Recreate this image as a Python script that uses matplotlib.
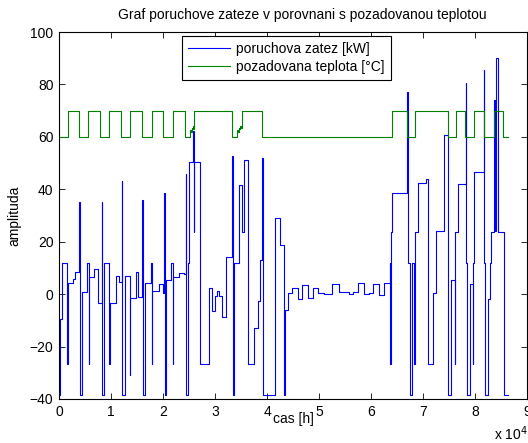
import numpy as np
import matplotlib.pyplot as plt

plt.rcParams['font.family'] = ['Liberation Sans', 'DejaVu Sans']

# time in seconds, values held until the next time stamp
zatez_t = [0, 200, 640, 1560, 1660, 2690, 3080, 3846, 3950, 4100, 4490, 5384, 5700, 5780,
           6795, 7500, 8205, 8300, 8590, 9680, 9780, 10898, 11603, 12051, 12150, 12692,
           13590, 13680, 14743, 15100, 16025, 16120, 16538, 17692, 17820, 17900, 19230,
           20000, 20256, 20350, 20512, 21538, 21859, 21950, 23077, 24038, 24359, 24450,
           24743, 25000, 25833, 25930, 26025, 27115, 28846, 29487, 29936, 30384, 30769,
           31282, 32051, 33333, 33450, 33718, 34615, 35256, 35513, 36410, 37564, 38205,
           38718, 39103, 39200, 41474, 41538, 42436, 43333, 43420, 44102, 44872, 45897,
           46795, 47949, 48846, 49872, 50898, 52564, 53846, 55769, 56538, 57436, 58590,
           59615, 60384, 61538, 62436, 63600, 63718, 63800, 64103, 66923, 67020, 67436,
           67820, 68333, 68420, 68974, 70513, 70897, 71923, 72564, 74102, 74743, 74871,
           75384, 76100, 76200, 76794, 78205, 78300, 78461, 78974, 79615, 79700, 79743,
           81666, 81760, 81922, 82435, 82948, 83076, 83589, 83650, 83720, 83790, 83860,
           83930, 84102, 84487, 85512, 85640, 86400]
zatez_v = [-38.3, -9.5, 12, -26.5, 4.1, 5.7, 8.5, 35, -3.4, -38.3, 1, 12, -26.5, 6.6,
           9.5, -3.3, 35, -38.3, 12, -26.5, -3.5, 7, 4.7, 43.3, -38.3, 7,
           -31, -1.3, 8.3, -1.0, 35.9, -38.3, 4.3, 12, -26.5, 1.3, 3.7,
           0.3, 38.4, -38.3, 5.3, 12, -26.5, 6.4, 7.9, 7.6, 45.8, -38.3,
           12, 50.3, 62.3, 23.8, 50.3, -26.5, 2.2, -6.4, -0.8, 1.3, -0.8,
           -8.9, 14.2, 52.7, -38.3, 12, 41.6, 23.8, 51.1, -26.5, -13.1, -2.5,
           13.2, 51.8, -38.3, 12, 28.9, 18.7, -38.3, -5.9, 0.3, 2.2, -1.7,
           3.4, -1.4, 2.5, 0.6, -0.1, 3.7, 0.8, 0.1, 0.8, 4.1, 0.1,
           0.6, 3.7, -0.5, 4.3, 12, -26.5, 23.8, 38.4, 77.1, 12, -38.3,
           12, -26.5, 23.8, 42.5, 44, -26.5, 0.3, 23.9, 60.6, -26.5, -38.3,
           5.3, -26.5, 23.8, 42, 80.4, 12, -38.3, 4, -26.5, 12, 46.7,
           85.5, 12, -38.3, -1.7, 12, 23.8, 74, 24, 74, 24, 74,
           24, 90, 23.8, 12, -38.3, -38.3]

teplota_t = [0, 1670, 3850, 5640, 7950, 9620, 11920, 13590, 16020, 17820, 20000, 21920,
             24230, 25190, 25350, 25500, 25620, 25750, 25880, 25961, 33330, 34300, 34450,
             34600, 34750, 34900, 35050, 35250, 39040, 64040, 66920, 68460, 74750, 76280,
             78140, 79870, 81790, 83710, 85440, 86400]
teplota_v = [60, 70, 60, 70, 60, 70, 60, 70, 60, 70, 60, 70,
             60, 62.5, 62, 63.5, 63, 64, 63, 70, 60, 62.5, 62,
             63.5, 63, 64, 63.2, 70, 60, 70, 60, 70, 60, 70,
             60, 70, 60, 70, 60, 60]

x_ticks = np.arange(0, 90001, 10000)
x_labels = [str(i) for i in range(10)]
y_ticks = np.arange(-40, 101, 20)

W, H = 528, 443
fs = 10
fig = plt.figure(figsize=(W / 100, H / 100), dpi=100)
ax = fig.add_axes([59 / W, 1 - 399 / H, (527 - 59) / W, (399 - 32) / H])

ax.plot(zatez_t, zatez_v, drawstyle='steps-post', color='#0000ff', lw=0.8,
        label='poruchova zatez [kW]')
ax.plot(teplota_t, teplota_v, drawstyle='steps-post', color='#008000', lw=0.8,
        label='pozadovana teplota [°C]')

ax.set_xlim(0, 90000)
ax.set_ylim(-40, 100)
ax.set_xticks(x_ticks)
ax.set_xticklabels(x_labels)
ax.set_yticks(y_ticks)
ax.tick_params(direction='in', top=True, right=True, length=4, width=0.6,
               labelsize=fs, pad=4)
for s in ax.spines.values():
    s.set_linewidth(0.8)

ax.set_xlabel('cas [h]', fontsize=fs, labelpad=-5)
ax.set_ylabel('amplituda', fontsize=fs, labelpad=6)
fig.text(302 / W, 1 - 15 / H, 'Graf poruchove zateze v porovnani s pozadovanou teplotou',
         ha='center', va='center', fontsize=fs)
fig.text(494 / W, 1 - 434 / H, r'x 10$^{4}$', ha='left', va='center', fontsize=fs)

leg = ax.legend(loc='upper left', bbox_to_anchor=(182 / W, 1 - 36 / H),
                bbox_transform=fig.transFigure, borderaxespad=0, fontsize=fs,
                fancybox=False, framealpha=1, edgecolor='black',
                handlelength=3.0, handletextpad=0.45, labelspacing=0.25,
                borderpad=0.45)
leg.get_frame().set_linewidth(0.8)

fig.savefig('out.png', dpi=100)
